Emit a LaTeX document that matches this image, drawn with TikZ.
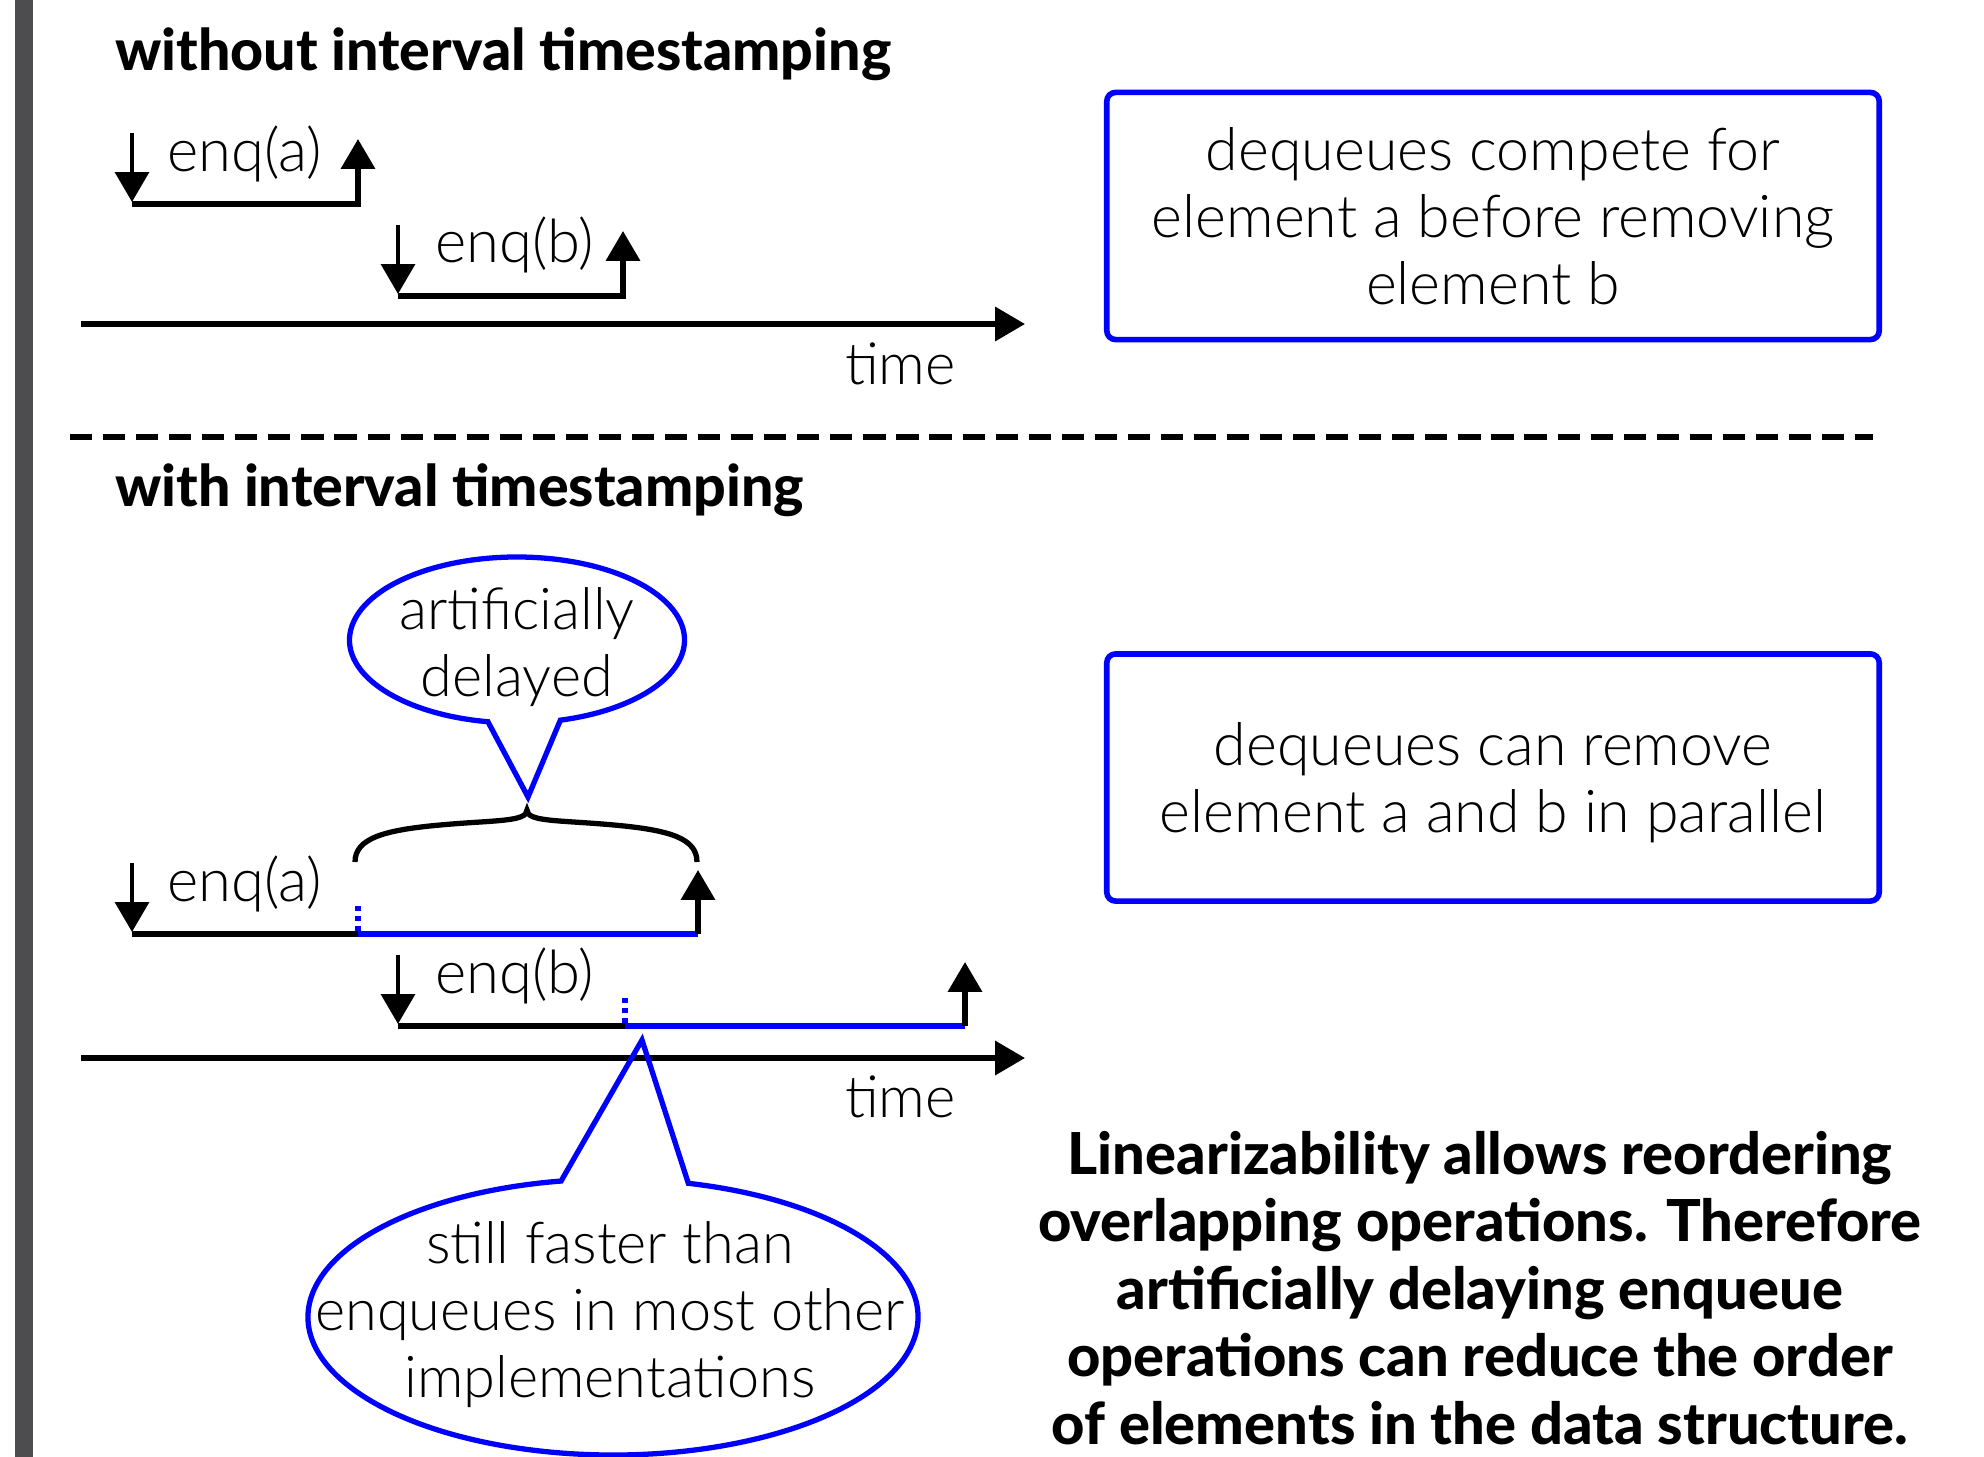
\documentclass[tikz,border=0pt]{standalone}
\usepackage{fontspec}
\setmainfont{Lato Light}[BoldFont={Lato Heavy}]
\usetikzlibrary{arrows.meta,calc}

\definecolor{hiblue}{RGB}{0,0,255}
\definecolor{bargray}{RGB}{77,77,79}

\begin{document}
\begin{tikzpicture}[x=0.01cm,y=-0.01cm,
  every node/.style={inner sep=0pt, outer sep=0pt},
  heading/.style={font=\fontsize{16.3}{19}\selectfont\bfseries, anchor=base west},
  oplabel/.style={font=\fontsize{17}{19}\selectfont, anchor=base west},
  timelabel/.style={font=\fontsize{16.5}{19}\selectfont, anchor=base west},
  infobox/.style={draw=hiblue, line width=1.6pt, rounded corners=2.5pt,
    minimum width=7.72cm, minimum height=2.47cm, align=center,
    font=\fontsize{16.8}{19.06}\selectfont},
  calltext/.style={align=center, font=\fontsize{16.4}{19.06}\selectfont},
  callline/.style={draw=hiblue, line width=1.5pt, line join=miter},
  summary/.style={align=center, font=\fontsize{16.45}{19.17}\selectfont\bfseries},
  tip/.style={-{Triangle[length=8.5pt,width=9.5pt]}},
  invoke/.style={line width=1.4pt, tip},
  respond/.style={line width=1.5pt, tip},
  opline/.style={line width=1.6pt},
  delayline/.style={line width=1.6pt, draw=hiblue},
  delaymark/.style={line width=1.5pt, draw=hiblue, dash pattern=on 1.4pt off 1.4pt},
  timeaxis/.style={line width=1.5pt, tip},
  divider/.style={line width=1.5pt, dash pattern=on 6.3pt off 3.1pt},
  bracestyle/.style={line width=1.5pt},
]
\useasboundingbox (0,0) rectangle (1984,1457);

% side bar
\fill[bargray] (15,0) rectangle (33,1457);

% ---------- without interval timestamping ----------
\node[heading] (h1) at (115,70) {without interval timestamping};

\coordinate (a1in) at (132,133);
\coordinate (a1inv) at (132,202);
\coordinate (a1beg) at (132,204);
\coordinate (a1end) at (358,204);
\coordinate (a1ret) at (358,139);
\draw[invoke] (a1in) -- (a1inv);
\draw[respond] (a1beg) -- (a1end) -- (a1ret);
\node[oplabel] (la1) at (167,171) {enq(a)};

\coordinate (a2in) at (398,225);
\coordinate (a2inv) at (398,294);
\coordinate (a2beg) at (398,296);
\coordinate (a2end) at (623,296);
\coordinate (a2ret) at (623,231);
\draw[invoke] (a2in) -- (a2inv);
\draw[respond] (a2beg) -- (a2end) -- (a2ret);
\node[oplabel] (la2) at (435,262) {enq(b)};

\coordinate (t1s) at (81,324);
\coordinate (t1e) at (1025,324);
\draw[timeaxis] (t1s) -- (t1e);
\node[timelabel] (time1) at (845,384) {time};

\node[infobox] (box1) at (1493,216)
  {dequeues compete for\\element a before removing\\element b};

% separator
\coordinate (d1) at (70,437);
\coordinate (d2) at (1873,437);
\draw[divider] (d1) -- (d2);

% ---------- with interval timestamping ----------
\node[heading] (h2) at (115,506) {with interval timestamping};

% callout above the delayed part
\coordinate (cAc) at (517,640);
\coordinate (cAtip) at (528,797);
\node[calltext] (cA) at (517,647) {artificially\\delayed};
\draw[callline] ($(cAc)+(100:167.5 and 83)$)
  arc[start angle=100, end angle=435, x radius=167.5, y radius=83]
  -- (cAtip) -- cycle;

% brace over the delayed interval
\coordinate (brL) at (355,862);
\coordinate (brT) at (527,810);
\coordinate (brR) at (697,862);
\draw[bracestyle] (brL) .. controls (355,838) and (385,830) .. (440,825)
  .. controls (495,820) and (527,822) .. (brT)
  .. controls (527,822) and (559,820) .. (614,825)
  .. controls (669,830) and (697,838) .. (brR);

\coordinate (b1in) at (132,863);
\coordinate (b1inv) at (132,932);
\coordinate (b1beg) at (132,934);
\coordinate (b1mark) at (358,934);
\coordinate (b1dot) at (358,906);
\coordinate (b1end) at (698,934);
\coordinate (b1ret) at (698,870);
\draw[invoke] (b1in) -- (b1inv);
\draw[opline] (b1beg) -- (b1mark);
\draw[delayline] (b1mark) -- (b1end);
\draw[respond] (b1end) -- (b1ret);
\draw[delaymark] (b1dot) -- (b1mark);
\node[oplabel] (lb1) at (167,901) {enq(a)};

\coordinate (b2in) at (398,955);
\coordinate (b2inv) at (398,1024);
\coordinate (b2beg) at (398,1026);
\coordinate (b2mark) at (625,1026);
\coordinate (b2dot) at (625,998);
\coordinate (b2end) at (965,1026);
\coordinate (b2ret) at (965,962);
\draw[invoke] (b2in) -- (b2inv);
\draw[opline] (b2beg) -- (b2mark);
\draw[delayline] (b2mark) -- (b2end);
\draw[respond] (b2end) -- (b2ret);
\draw[delaymark] (b2dot) -- (b2mark);
\node[oplabel] (lb2) at (435,993) {enq(b)};

\coordinate (t2s) at (81,1058);
\coordinate (t2e) at (1025,1058);
\draw[timeaxis] (t2s) -- (t2e);
\node[timelabel] (time2) at (845,1117) {time};

% callout below the time axis
\coordinate (cBc) at (613,1317);
\coordinate (cBtip) at (642,1040);
\node[calltext] (cB) at (610,1315)
  {still faster than\\enqueues in most other\\implementations};
\draw[callline] ($(cBc)+(284.3:305 and 138)$)
  arc[start angle=284.3, end angle=620.2, x radius=305, y radius=138]
  -- (cBtip) -- cycle;

\node[infobox] (box2) at (1493,777.5)
  {\rule{0pt}{15pt}dequeues can remove\\element a and b in parallel};

\node[summary] (sum) at (1480,1288)
  {Linearizability allows reordering\\overlapping operations. Therefore\\artificially delaying enqueue\\operations can reduce the order\\of elements in the data structure.};
\end{tikzpicture}
\end{document}
